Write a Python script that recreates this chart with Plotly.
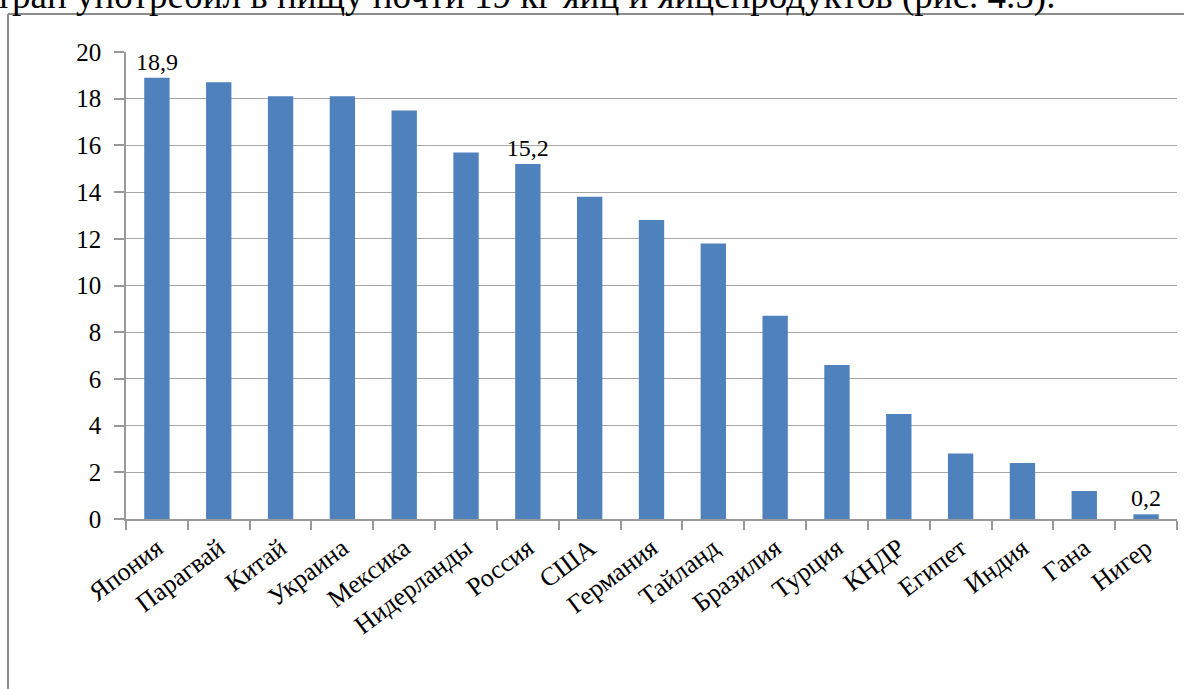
import plotly.graph_objects as go

countries = ["Япония", "Парагвай", "Китай", "Украина", "Мексика", "Нидерланды", "Россия",
             "США", "Германия", "Тайланд", "Бразилия", "Турция", "КНДР", "Египет", "Индия",
             "Гана", "Нигер"]
values = [18.9, 18.7, 18.1, 18.1, 17.5, 15.7, 15.2, 13.8, 12.8, 11.8, 8.7, 6.6, 4.5, 2.8, 2.4, 1.2, 0.2]
shown_labels = {"Япония": "18,9", "Россия": "15,2", "Нигер": "0,2"}
y_ticks = [0, 2, 4, 6, 8, 10, 12, 14, 16, 18, 20]

W, H = 1184, 689
L, R, T, B = 126, 7, 52, 170
pw, ph = W - L - R, H - T - B
SERIF = "Liberation Serif, Times New Roman, serif"

def px(x):
    return (x - L) / pw

def py(y):
    return (H - B - y) / ph

texts = [shown_labels.get(c, "") for c in countries]

fig = go.Figure(go.Bar(
    x=countries, y=values, text=texts, textposition="outside",
    constraintext="none",
    textfont=dict(family=SERIF, size=24, color="black"),
    marker=dict(color="#4F81BD", line=dict(color="#4F81BD", width=0)),
    width=0.41, cliponaxis=False, hoverinfo="skip",
))

fig.update_layout(
    width=W, height=H,
    margin=dict(l=L, r=R, t=T, b=B, autoexpand=False),
    paper_bgcolor="white", plot_bgcolor="white",
    showlegend=False,
    font=dict(family=SERIF, size=24, color="black"),
    xaxis=dict(
        type="category", tickangle=-37, tickson="boundaries",
        ticks="outside", ticklen=9, tickcolor="#999999", tickwidth=1.5,
        showline=True, linecolor="#999999", linewidth=1.5,
        showgrid=False, tickfont=dict(family=SERIF, size=26, color="black"),
        automargin=False, ticklabelstandoff=2,
    ),
    yaxis=dict(
        range=[0, 20], tickvals=y_ticks, ticktext=[str(v) for v in y_ticks],
        ticks="outside", ticklen=10, tickcolor="#999999", tickwidth=1.5,
        showline=True, linecolor="#999999", linewidth=1.5,
        showgrid=True, gridcolor="#A6A6A6", gridwidth=1.2,
        zeroline=False, tickfont=dict(family=SERIF, size=25, color="black"),
        automargin=False, ticklabelstandoff=8,
    ),
    shapes=[
        dict(type="line", xref="paper", yref="paper", x0=px(8), x1=px(1200), y0=py(14), y1=py(14),
             line=dict(color="#8C8C8C", width=2)),
        dict(type="line", xref="paper", yref="paper", x0=px(8), x1=px(8), y0=py(14), y1=py(700),
             line=dict(color="#8C8C8C", width=2)),
    ],
    annotations=[
        dict(text="стран употребил в пищу почти 19 кг яиц и яйцепродуктов (рис. 4.5).",
             xref="paper", yref="paper", x=px(1057), y=py(19), xanchor="right", yanchor="bottom",
             showarrow=False, font=dict(family=SERIF, size=37, color="black")),
    ],
)

fig.write_html("out.html", config={"displayModeBar": False},
               post_script="document.body.style.margin='0';document.body.style.overflow='hidden';")
